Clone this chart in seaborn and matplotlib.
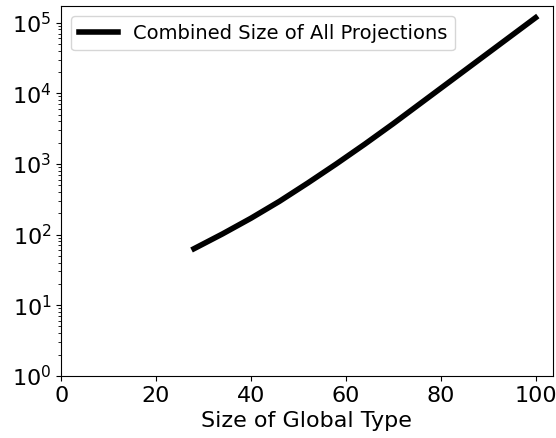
import numpy as np
import pandas as pd
import matplotlib
matplotlib.use("Agg")
import matplotlib.pyplot as plt
import seaborn as sns

# global type size vs combined size of all projections
global_size = [28, 34, 40, 46, 52, 58, 64, 70, 76, 82, 88, 94, 100]
combined_size = [63, 102, 170, 295, 537, 1000, 1905, 3715, 7413, 14790, 29510, 58880, 117500]

df = pd.DataFrame({"size": global_size, "combined": combined_size})

plt.rcParams['font.family'] = ['DejaVu Sans']
fig = plt.figure(figsize=(5.56, 4.38), dpi=100)
ax = fig.add_axes([0.11, 0.142, 0.884, 0.844])

sns.lineplot(data=df, x="size", y="combined", color="black", linewidth=4,
             label="Combined Size of All Projections", ax=ax)
ax.set_yscale("log")
ax.set_xlim(left=0)
ax.set_ylim(bottom=1)
ax.set_xlabel("Size of Global Type", fontsize=16)
ax.set_ylabel("")
ax.tick_params(labelsize=16)
ax.legend(loc="upper left", fontsize=14)

fig.savefig("out.png", dpi=100)
